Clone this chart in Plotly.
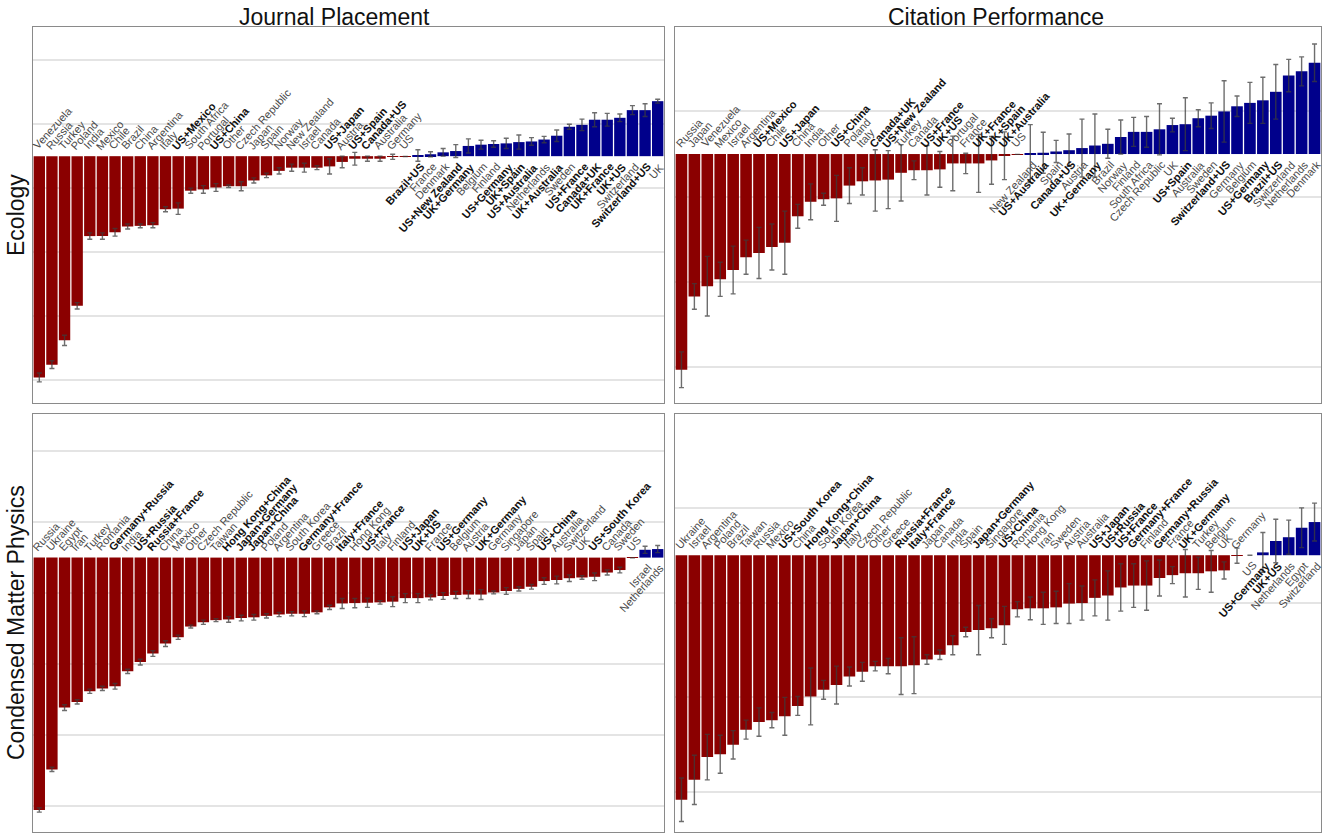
import plotly.graph_objects as go

# ---- Ecology / Journal Placement ----
eco_jp_names = ["Venezuela", "Russia", "Turkey", "Poland", "India", "Mexico", "Chile", "Brazil", "China",
                "Argentina", "Italy", "US+Mexico", "South Africa", "Portugal", "US+China", "Other",
                "Czech Republic", "Japan", "Spain", "Norway", "New Zealand", "Israel", "Canada", "US+Japan",
                "Austria", "US+Spain", "Canada+US", "Australia", "Germany", "US", "Brazil+US", "France",
                "Denmark", "US+New Zealand", "UK+Germany", "Belgium", "Finland", "US+Germany", "UK+Spain",
                "US+Australia", "Netherlands", "UK+Australia", "Sweden", "US+France", "Canada+UK",
                "UK+France", "UK+US", "Switzerland", "Switzerland+US", "UK"]
eco_jp_vals = [-3.46, -3.26, -2.88, -2.34, -1.25, -1.25, -1.19, -1.10, -1.09, -1.08, -0.83, -0.82, -0.54,
               -0.52, -0.49, -0.47, -0.47, -0.38, -0.30, -0.23, -0.18, -0.18, -0.18, -0.16, -0.09, -0.04,
               -0.04, -0.04, -0.01, -0.005, 0.01, 0.03, 0.06, 0.08, 0.16, 0.18, 0.19, 0.20, 0.22, 0.23,
               0.26, 0.32, 0.46, 0.49, 0.57, 0.57, 0.60, 0.72, 0.72, 0.86]
eco_jp_err = [0.07, 0.06, 0.08, 0.05, 0.05, 0.05, 0.06, 0.04, 0.03, 0.04, 0.04, 0.09, 0.04, 0.06, 0.06,
              0.02, 0.07, 0.04, 0.035, 0.05, 0.055, 0.07, 0.03, 0.12, 0.09, 0.10, 0.04, 0.04, 0.04, None,
              0.09, 0.04, 0.06, 0.10, 0.11, 0.07, 0.05, 0.08, 0.11, 0.06, 0.05, 0.09, 0.04, 0.09, 0.11,
              0.10, 0.06, 0.07, 0.10, 0.03]

# ---- Ecology / Citation Performance ----
eco_cp_names = ["Russia", "Japan", "Venezuela", "Mexico", "Israel", "Argentina", "US+Mexico", "Chile",
                "US+Japan", "China", "India", "Other", "US+China", "Poland", "Italy", "Canada+UK",
                "US+New Zealand", "Turkey", "Canada", "US+France", "UK+US", "Portugal", "France",
                "UK+France", "UK+Spain", "UK+Australia", "US", "New Zealand", "US+Australia", "Spain",
                "Canada+US", "Austria", "UK+Germany", "Brazil", "Norway", "Finland", "South Africa",
                "Czech Republic", "UK", "US+Spain", "Australia", "Sweden", "Switzerland+US", "Germany",
                "Belgium", "US+Germany", "Brazil+US", "Switzerland", "Netherlands", "Denmark"]
eco_cp_vals = [-2.53, -1.67, -1.55, -1.47, -1.36, -1.21, -1.16, -1.09, -1.04, -0.73, -0.56, -0.53, -0.52,
               -0.37, -0.32, -0.31, -0.30, -0.22, -0.19, -0.19, -0.18, -0.11, -0.11, -0.11, -0.075, -0.02,
               -0.004, 0.005, 0.015, 0.03, 0.045, 0.07, 0.10, 0.12, 0.20, 0.26, 0.26, 0.29, 0.34, 0.35,
               0.42, 0.45, 0.50, 0.56, 0.60, 0.63, 0.73, 0.92, 0.97, 1.07]
eco_cp_err = [0.21, 0.15, 0.35, 0.20, 0.28, 0.20, 0.30, 0.27, 0.37, 0.14, 0.21, 0.07, 0.27, 0.21, 0.16,
              0.36, 0.34, 0.33, 0.11, 0.29, 0.21, 0.32, 0.12, 0.34, 0.28, 0.28, None, 0.34, 0.24, 0.13,
              0.19, 0.34, 0.37, 0.17, 0.20, 0.17, 0.18, 0.30, 0.08, 0.31, 0.10, 0.15, 0.36, 0.12, 0.24,
              0.27, 0.32, 0.19, 0.17, 0.22]

# ---- Condensed Matter Physics / Journal Placement ----
cmp_jp_names = ["Russia", "Ukraine", "Egypt", "Iran", "Turkey", "Romania", "Germany+Russia", "India",
                "US+Russia", "Russia+France", "China", "Mexico", "Other", "Czech Republic", "Taiwan",
                "Hong Kong+China", "Japan+Germany", "Japan+China", "Poland", "Argentina", "South Korea",
                "Germany+France", "Greece", "Brazil", "Italy+France", "Hong Kong", "US+France", "Italy",
                "Finland", "US+Japan", "UK+US", "France", "US+Germany", "Belgium", "Austria", "UK+Germany",
                "Germany", "Singapore", "Japan", "Spain", "US+China", "Australia", "Switzerland", "UK",
                "US+South Korea", "Canada", "Sweden", "US", "Israel", "Netherlands"]
cmp_jp_vals = [-3.55, -2.98, -2.11, -2.03, -1.88, -1.84, -1.81, -1.60, -1.47, -1.35, -1.21, -1.12, -0.97,
               -0.91, -0.88, -0.87, -0.85, -0.84, -0.82, -0.80, -0.79, -0.79, -0.77, -0.70, -0.645, -0.64,
               -0.635, -0.63, -0.62, -0.57, -0.57, -0.56, -0.54, -0.525, -0.52, -0.52, -0.49, -0.47, -0.44,
               -0.41, -0.33, -0.315, -0.29, -0.28, -0.27, -0.21, -0.175, -0.004, 0.11, 0.12]
cmp_jp_err = [0.03, 0.03, 0.04, 0.03, 0.03, 0.03, 0.04, 0.03, 0.04, 0.04, 0.04, 0.03, 0.02, 0.03, 0.02,
              0.04, 0.04, 0.04, 0.03, 0.03, 0.03, 0.04, 0.02, 0.03, 0.07, 0.065, 0.065, 0.025, 0.07, 0.063,
              0.063, 0.035, 0.047, 0.05, 0.056, 0.07, 0.02, 0.047, 0.03, 0.033, 0.047, 0.054, 0.047, 0.024,
              0.054, 0.035, 0.04, None, 0.05, 0.05]

# ---- Condensed Matter Physics / Citation Performance ----
cmp_cp_names = ["Ukraine", "Israel", "Argentina", "Poland", "Brazil", "Taiwan", "Russia", "Mexico",
                "US+South Korea", "China", "Hong Kong+China", "South Korea", "Japan+China", "Italy",
                "Czech Republic", "Other", "Greece", "Russia+France", "Italy+France", "Japan", "Canada",
                "India", "Spain", "Japan+Germany", "Singapore", "US+China", "Romania", "Hong Kong", "Iran",
                "Sweden", "Austria", "Australia", "US+Japan", "US+Russia", "US+France", "Germany+France",
                "Finland", "Germany+Russia", "France", "UK+Germany", "Turkey", "Belgium", "UK", "Germany",
                "US", "US+Germany", "UK+US", "Netherlands", "Egypt", "Switzerland"]
cmp_cp_vals = [-2.58, -2.37, -2.13, -2.10, -2.00, -1.84, -1.76, -1.74, -1.70, -1.59, -1.49, -1.42, -1.37,
               -1.28, -1.23, -1.17, -1.17, -1.17, -1.16, -1.10, -1.05, -0.95, -0.81, -0.79, -0.77, -0.74,
               -0.57, -0.56, -0.56, -0.55, -0.51, -0.505, -0.45, -0.425, -0.34, -0.32, -0.32, -0.24, -0.21,
               -0.19, -0.19, -0.17, -0.16, -0.005, 0.0, 0.03, 0.15, 0.19, 0.29, 0.35]
cmp_cp_err = [0.23, 0.26, 0.24, 0.20, 0.15, 0.10, 0.15, 0.08, 0.20, 0.10, 0.30, 0.10, 0.20, 0.10, 0.10,
              0.05, 0.08, 0.30, 0.30, 0.05, 0.05, 0.10, 0.05, 0.26, 0.10, 0.20, 0.08, 0.12, 0.17, 0.17,
              0.21, 0.18, 0.19, 0.26, 0.25, 0.23, 0.26, 0.19, 0.09, 0.25, 0.17, 0.22, 0.09, 0.08, None,
              0.21, 0.23, 0.18, 0.21, 0.20]

col_titles = ["Journal Placement", "Citation Performance"]
row_titles = ["Ecology", "Condensed Matter Physics"]

W, H = 1322, 835
NEG, POS = "#8B0000", "#00008B"
FONT = "Liberation Sans, Arial, Helvetica, sans-serif"
LABEL_ANGLE = -48

# panel boxes in pixels: (left, right, top, bottom), y range shared per column
cols_px = [(33, 664), (675, 1321)]
rows_px = [(27, 403), (414, 832)]
col_ranges = [(-3.86, 2.02), (-2.92, 1.49)]

panels = [
    (0, 0, eco_jp_names, eco_jp_vals, eco_jp_err),
    (0, 1, eco_cp_names, eco_cp_vals, eco_cp_err),
    (1, 0, cmp_jp_names, cmp_jp_vals, cmp_jp_err),
    (1, 1, cmp_cp_names, cmp_cp_vals, cmp_cp_err),
]

fig = go.Figure()
annotations = []
layout = {}

for k, (r, c, names, vals, errs) in enumerate(panels, start=1):
    xs = "" if k == 1 else str(k)
    x0, x1 = cols_px[c]
    y0, y1 = rows_px[r]
    colors = [NEG if v < 0 else POS for v in vals]
    err_arr = [e if e is not None else float("nan") for e in errs]
    fig.add_trace(go.Bar(
        x=names, y=vals, marker=dict(color=colors, line=dict(width=0)),
        error_y=dict(type="data", array=err_arr, color="rgba(60,60,60,0.75)", thickness=1.4, width=2.5),
        xaxis="x" + xs, yaxis="y" + xs, showlegend=False, hoverinfo="x+y",
    ))
    layout["xaxis" + xs] = dict(
        domain=[x0 / W, x1 / W], anchor="y" + xs, type="category", range=[-0.5, len(names) - 0.5],
        showticklabels=False, showgrid=False, zeroline=False, ticks="",
        showline=True, mirror=True, linecolor="#8a8a8a", linewidth=1, fixedrange=True,
    )
    layout["yaxis" + xs] = dict(
        domain=[1 - y1 / H, 1 - y0 / H], anchor="x" + xs, range=list(col_ranges[c]),
        tick0=0.5, dtick=1, showticklabels=False, ticks="", zeroline=False,
        showgrid=True, gridcolor="#e4e4e4", gridwidth=1.6,
        showline=True, mirror=True, linecolor="#8a8a8a", linewidth=1, fixedrange=True,
    )
    # country labels, rotated, sitting on the zero line
    for name, v in zip(names, vals):
        bold = "+" in name
        txt = f"<b>{name}</b>" if bold else name
        col = "#111111" if bold else "#4a4a4a"
        if v < 0:
            annotations.append(dict(
                x=name, y=0, xref="x" + xs, yref="y" + xs, text=txt, textangle=LABEL_ANGLE,
                showarrow=False, xanchor="left", yanchor="bottom", xshift=-10, yshift=3,
                font=dict(family=FONT, size=11, color=col), borderpad=0,
            ))
        else:
            annotations.append(dict(
                x=name, y=0, xref="x" + xs, yref="y" + xs, text=txt, textangle=LABEL_ANGLE,
                showarrow=False, xanchor="right", yanchor="top", xshift=10, yshift=-3,
                font=dict(family=FONT, size=11, color=col), borderpad=0,
            ))

# column titles
for c, t in enumerate(col_titles):
    cx = 334 if c == 0 else 996
    annotations.append(dict(
        x=cx / W, y=1 - 17 / H, xref="paper", yref="paper", text=t, showarrow=False,
        xanchor="center", yanchor="middle", font=dict(family=FONT, size=23, color="#111111"),
    ))
# row titles
for r, t in enumerate(row_titles):
    y0, y1 = rows_px[r]
    annotations.append(dict(
        x=16 / W, y=1 - (y0 + y1) / 2 / H, xref="paper", yref="paper", text=t, showarrow=False,
        textangle=-90, xanchor="center", yanchor="middle", font=dict(family=FONT, size=23, color="#111111"),
    ))

fig.update_layout(
    width=W, height=H, margin=dict(l=0, r=0, t=0, b=0),
    paper_bgcolor="white", plot_bgcolor="white", bargap=0.1,
    annotations=annotations, **layout,
)

fig.write_html("out.html", config={"displayModeBar": False})
